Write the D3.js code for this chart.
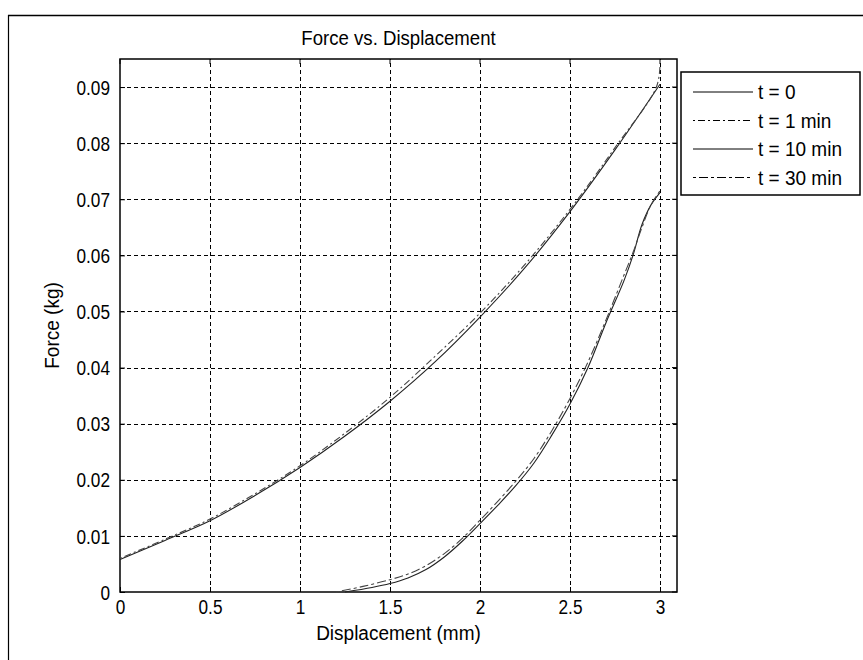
<!DOCTYPE html>
<html>
<head>
<meta charset="utf-8">
<script src="https://cdn.jsdelivr.net/npm/d3@7/dist/d3.min.js"></script>
<style>
  html, body { margin: 0; padding: 0; background: #fff; }
  svg { display: block; }
  text { font-family: "Liberation Sans", Arial, sans-serif; fill: #000; }
</style>
</head>
<body>
<svg id="chart" width="863" height="660"></svg>
<script>
// Force–displacement readings at four relaxation times
const xTicks = [0, 0.5, 1, 1.5, 2, 2.5, 3];
const xTickLabels = ["0", "0.5", "1", "1.5", "2", "2.5", "3"];
const yTicks = [0, 0.01, 0.02, 0.03, 0.04, 0.05, 0.06, 0.07, 0.08, 0.09];
const yTickLabels = ["0", "0.01", "0.02", "0.03", "0.04", "0.05", "0.06", "0.07", "0.08", "0.09"];

const seriesNames = ["t = 0", "t = 1 min", "t = 10 min", "t = 30 min"];

const dispT0 = [0, 0.25, 0.5, 0.75, 1.0, 1.25, 1.5, 1.75, 2.0, 2.25, 2.5, 2.75, 3.0];
const forceT0 = [0.0058, 0.0092, 0.0127, 0.0172, 0.0222, 0.0278, 0.0340, 0.0410, 0.0490, 0.0578, 0.0678, 0.0788, 0.0905];

const dispT1 = [0, 0.25, 0.5, 0.75, 1.0, 1.25, 1.5, 1.75, 2.0, 2.25, 2.5, 2.75, 2.98, 3.0];
const forceT1 = [0.0060, 0.0094, 0.0130, 0.0175, 0.0225, 0.0283, 0.0347, 0.0420, 0.0497, 0.0584, 0.0682, 0.0792, 0.0900, 0.0940];

const dispT10 = [1.25, 1.4, 1.5, 1.6, 1.7, 1.8, 1.9, 2.0, 2.1, 2.2, 2.3, 2.4, 2.5, 2.6, 2.7, 2.8, 2.85, 2.9, 2.95, 3.0];
const forceT10 = [0, 0.0008, 0.0015, 0.0025, 0.0040, 0.0062, 0.0090, 0.0122, 0.0155, 0.0190, 0.0230, 0.0280, 0.0335, 0.0400, 0.0480, 0.0555, 0.0600, 0.0655, 0.0690, 0.0712];

const dispT30 = [1.2, 1.35, 1.5, 1.6, 1.7, 1.8, 1.9, 2.0, 2.1, 2.2, 2.3, 2.4, 2.5, 2.6, 2.7, 2.8, 2.85, 2.9, 2.95, 3.0];
const forceT30 = [0, 0.0010, 0.0022, 0.0032, 0.0047, 0.0068, 0.0095, 0.0128, 0.0162, 0.0198, 0.0238, 0.0288, 0.0345, 0.0410, 0.0485, 0.0565, 0.0605, 0.0650, 0.0690, 0.0715];

const dashes = [null, "2,3,7,3", null, "3,3,9,3"];

const series = [
  { name: seriesNames[0], x: dispT0, y: forceT0 },
  { name: seriesNames[1], x: dispT1, y: forceT1 },
  { name: seriesNames[2], x: dispT10, y: forceT10 },
  { name: seriesNames[3], x: dispT30, y: forceT30 }
];

const FONT = "Liberation Sans, Arial, sans-serif";
const svg = d3.select("#chart");

// squeeze a text element horizontally to a fraction of its natural width
function condense(sel, factor) {
  sel.each(function () {
    const w = this.getComputedTextLength();
    d3.select(this).attr("textLength", w * factor).attr("lengthAdjust", "spacingAndGlyphs");
  });
}

// figure frame (top and left edges)
svg.append("line").attr("x1", 8).attr("x2", 863).attr("y1", 15.5).attr("y2", 15.5)
  .attr("stroke", "#000").attr("stroke-width", 1.5);
svg.append("line").attr("x1", 8.5).attr("x2", 8.5).attr("y1", 15).attr("y2", 660)
  .attr("stroke", "#000").attr("stroke-width", 1.2);

const plot = { left: 120, right: 677, top: 59, bottom: 592 };

const x = d3.scaleLinear().domain([0, 3.1]).range([plot.left, plot.left + 3.1 * 180]);
const y = d3.scaleLinear().domain([0, 0.095]).range([plot.bottom, plot.top]);

// grid
const grid = svg.append("g").attr("stroke", "#000").attr("stroke-width", 1).attr("stroke-dasharray", "4,3");
grid.selectAll(".gx").data(xTicks.filter(d => d > 0)).join("line")
  .attr("x1", d => Math.round(x(d)) + 0.5).attr("x2", d => Math.round(x(d)) + 0.5)
  .attr("y1", plot.bottom).attr("y2", plot.top);
grid.selectAll(".gy").data(yTicks.filter(d => d > 0)).join("line")
  .attr("y1", d => Math.round(y(d)) + 0.5).attr("y2", d => Math.round(y(d)) + 0.5)
  .attr("x1", plot.left).attr("x2", plot.right);

// axes
const xAxis = d3.axisBottom(x).tickValues(xTicks).tickFormat((d, i) => xTickLabels[i]).tickSizeInner(-5).tickSizeOuter(0).tickPadding(10);
const yAxis = d3.axisLeft(y).tickValues(yTicks).tickFormat((d, i) => yTickLabels[i]).tickSizeInner(-5).tickSizeOuter(0).tickPadding(10);

const gx = svg.append("g").attr("transform", `translate(0,${plot.bottom})`).call(xAxis);
const gy = svg.append("g").attr("transform", `translate(${plot.left},0)`).call(yAxis);
[gx, gy].forEach(g => {
  g.select(".domain").remove();
  g.selectAll("line").attr("stroke", "#000");
  g.selectAll("text").attr("font-size", 20).attr("font-family", FONT).attr("fill", "#000");
  condense(g.selectAll("text"), 0.86);
});
gx.selectAll("text").attr("dy", "0.6em");
gy.selectAll("text").attr("dy", "0.36em");

// top/right tick marks
svg.append("g").selectAll("line").data(xTicks).join("line")
  .attr("x1", d => x(d)).attr("x2", d => x(d)).attr("y1", plot.top).attr("y2", plot.top + 5).attr("stroke", "#000");
svg.append("g").selectAll("line").data(yTicks).join("line")
  .attr("y1", d => y(d)).attr("y2", d => y(d)).attr("x1", plot.right).attr("x2", plot.right - 5).attr("stroke", "#000");

// box
svg.append("rect").attr("x", plot.left).attr("y", plot.top)
  .attr("width", plot.right - plot.left).attr("height", plot.bottom - plot.top)
  .attr("fill", "none").attr("stroke", "#000").attr("stroke-width", 1.5);

// curves
const line = d3.line().x(d => x(d[0])).y(d => y(d[1])).curve(d3.curveCatmullRom);
series.forEach((s, i) => {
  const pts = s.x.map((v, k) => [v, s.y[k]]);
  svg.append("path").datum(pts)
    .attr("d", line)
    .attr("fill", "none").attr("stroke", i % 2 ? "#444" : "#222")
    .attr("stroke-width", 1.1)
    .attr("stroke-dasharray", dashes[i]);
});

// title and axis labels
const cx = (plot.left + plot.right) / 2;
const title = svg.append("text").attr("x", cx).attr("y", 45)
  .attr("text-anchor", "middle").attr("font-size", 20).text("Force vs. Displacement");
condense(title, 0.93);
const xl = svg.append("text").attr("x", cx).attr("y", 640)
  .attr("text-anchor", "middle").attr("font-size", 20).text("Displacement (mm)");
condense(xl, 0.95);
const yl = svg.append("text").attr("transform", `translate(59,${(plot.top + plot.bottom) / 2}) rotate(-90)`)
  .attr("text-anchor", "middle").attr("font-size", 20).text("Force (kg)");
condense(yl, 0.95);

// legend
const lg = svg.append("g");
lg.append("rect").attr("x", 681).attr("y", 72).attr("width", 179).attr("height", 123)
  .attr("fill", "#fff").attr("stroke", "#000").attr("stroke-width", 1.5);
series.forEach((s, i) => {
  const ly = 92 + i * 28.5;
  lg.append("line").attr("x1", 693).attr("x2", 753).attr("y1", ly).attr("y2", ly)
    .attr("stroke", "#000").attr("stroke-width", 1).attr("stroke-dasharray", dashes[i]);
  const t = lg.append("text").attr("x", 758).attr("y", ly).attr("dy", "0.36em")
    .attr("font-size", 20).text(s.name);
  condense(t, 0.95);
});
</script>
</body>
</html>
